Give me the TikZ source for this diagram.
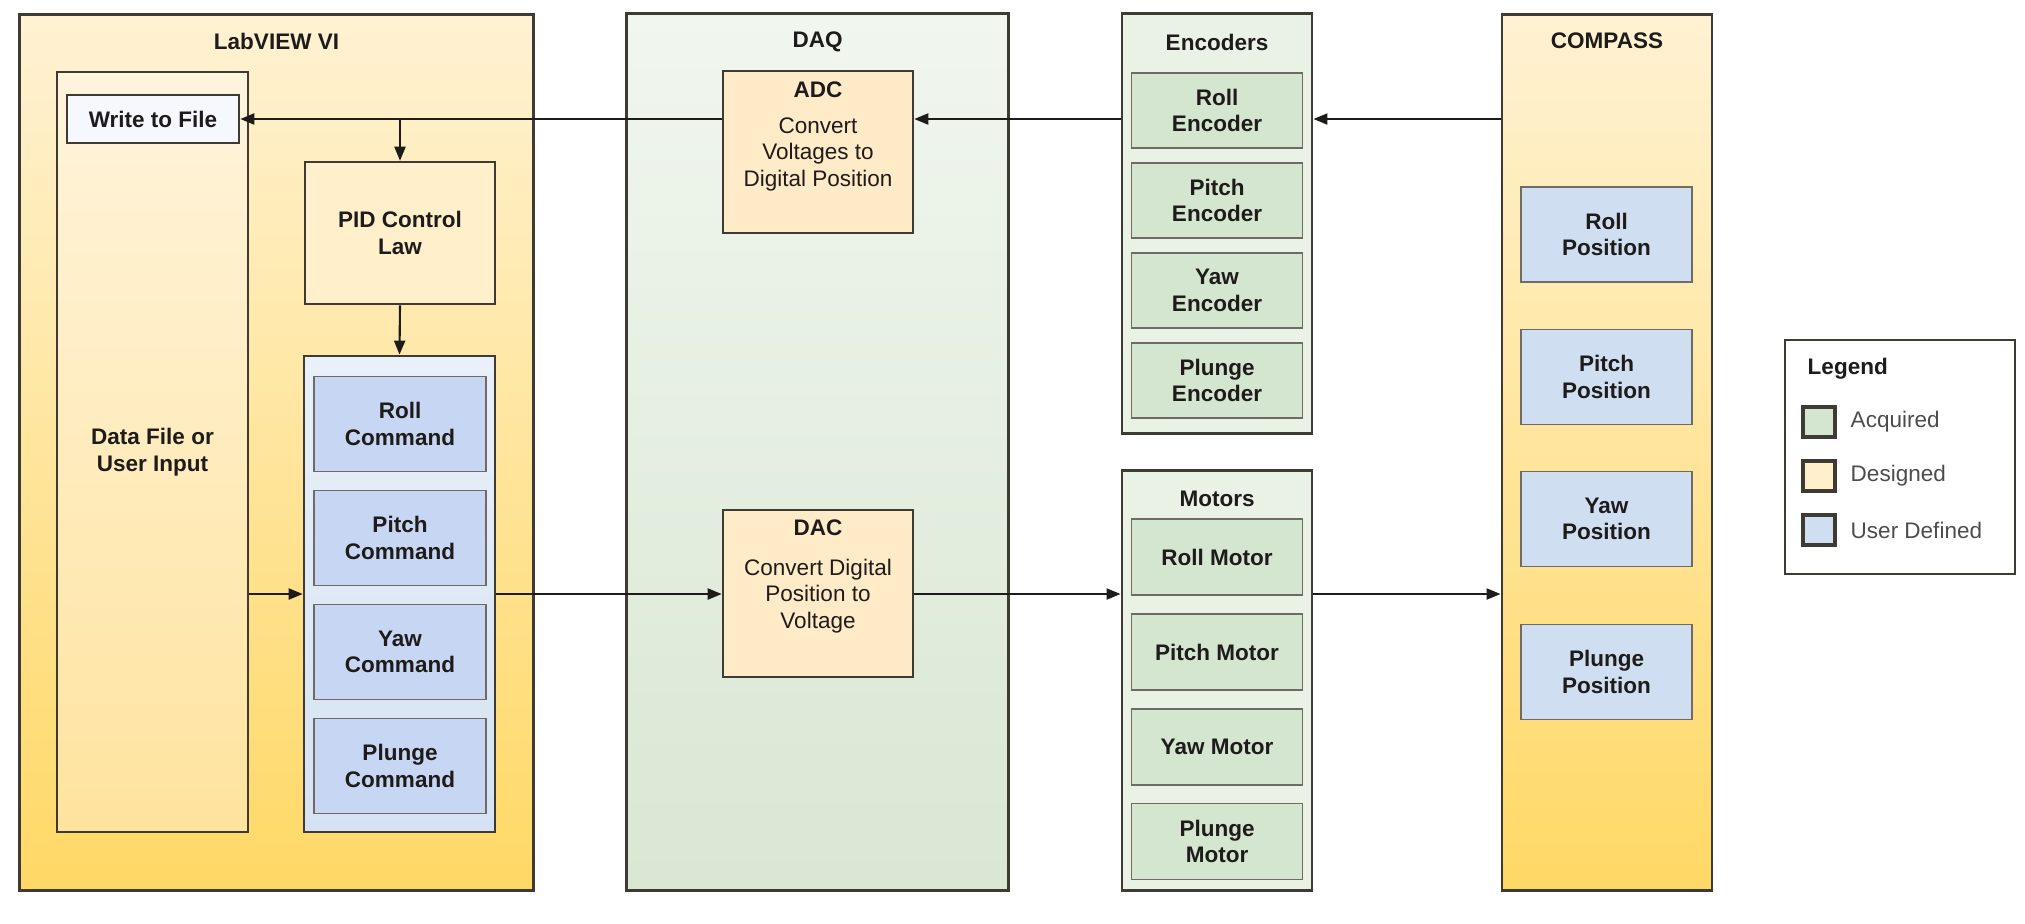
\documentclass[tikz,border=0pt]{standalone}
\usepackage{fontspec}
\setmainfont{Liberation Sans}
\usetikzlibrary{arrows.meta}

\definecolor{edge}{HTML}{3E3A34}
\definecolor{ink}{HTML}{1E1C1A}
\definecolor{creamtop}{HTML}{FFF2D3}
\definecolor{goldbot}{HTML}{FFD865}
\definecolor{filetop}{HTML}{FFF4DC}
\definecolor{filebot}{HTML}{FFE39E}
\definecolor{pidfill}{HTML}{FFEFCB}
\definecolor{convfill}{HTML}{FFEBC8}
\definecolor{cmdtop}{HTML}{E9F0F9}
\definecolor{cmdbot}{HTML}{D6E2F3}
\definecolor{cmdfill}{HTML}{C7D6F2}
\definecolor{daqtop}{HTML}{F1F6EF}
\definecolor{daqbot}{HTML}{D9E7D3}
\definecolor{hwfill}{HTML}{EAF2E6}
\definecolor{hwinner}{HTML}{D4E6CF}
\definecolor{posfill}{HTML}{CFDFF1}

\begin{document}
\begin{tikzpicture}[x=0.01cm, y=-0.01cm,
    every node/.style={font=\fontsize{6.4}{7.5}\selectfont\bfseries, text=ink, align=center, inner sep=0pt},
    group/.style={draw=edge, line width=0.8pt, rectangle},
    box/.style={draw=edge, line width=0.7pt, rectangle},
    thinbox/.style={draw=edge!75, line width=0.5pt, rectangle},
    heading/.style={anchor=north, yshift=-0.19cm},
    keytext/.style={anchor=west, font=\fontsize{6.4}{7.5}\selectfont, text=black!70},
    arrow/.style={-{Triangle[length=0.14cm,width=0.11cm]}, line width=0.6pt, draw=ink}]

        % Canvas
        \useasboundingbox[fill=white] (0,0) rectangle (2025,923);

        % LabVIEW VI
        \node[group, top color=creamtop, bottom color=goldbot, minimum width=5.13cm, minimum height=8.75cm,
              label={[heading]north:LabVIEW VI}] (labview) at (276.5,452.5) {};
        \node[box, top color=filetop, bottom color=filebot, minimum width=1.91cm, minimum height=7.6cm] (datafile) at (152.5,452) {Data File or\\User Input};
        \node[box, fill=white!97!blue, minimum width=1.72cm, minimum height=0.48cm] (writefile) at (153,119) {Write to File};
        \node[box, fill=pidfill, minimum width=1.9cm, minimum height=1.42cm] (pid) at (400,233) {PID Control\\Law};
        \node[box, top color=cmdtop, bottom color=cmdbot, minimum width=1.91cm, minimum height=4.76cm] (cmdbox) at (399.5,594) {};
        \node[thinbox, fill=cmdfill, minimum width=1.72cm, minimum height=0.95cm] (rollcmd) at (400,424) {Roll\\Command};
        \node[thinbox, fill=cmdfill, minimum width=1.72cm, minimum height=0.95cm] (pitchcmd) at (400,538) {Pitch\\Command};
        \node[thinbox, fill=cmdfill, minimum width=1.72cm, minimum height=0.95cm] (yawcmd) at (400,652) {Yaw\\Command};
        \node[thinbox, fill=cmdfill, minimum width=1.72cm, minimum height=0.95cm] (plungecmd) at (400,766) {Plunge\\Command};

        % DAQ
        \node[group, top color=daqtop, bottom color=daqbot, minimum width=3.81cm, minimum height=8.76cm,
              label={[heading]north:DAQ}] (daq) at (817.5,452) {};
        \node[box, fill=convfill, minimum width=1.9cm, minimum height=1.62cm,
              label={[anchor=north, yshift=-0.11cm]north:{ADC\\[0.1cm]\mdseries Convert\\\mdseries Voltages to\\\mdseries Digital Position}}] (adc) at (818,152) {};
        \node[box, fill=convfill, minimum width=1.9cm, minimum height=1.67cm,
              label={[anchor=north, yshift=-0.10cm]north:{DAC\\[0.14cm]\mdseries Convert Digital\\\mdseries Position to\\\mdseries Voltage}}] (dac) at (818,593.5) {};

        % Encoders
        \node[group, fill=hwfill, minimum width=1.9cm, minimum height=4.19cm,
              label={[heading, yshift=-0.02cm]north:Encoders}] (encoders) at (1217,223.5) {};
        \node[thinbox, fill=hwinner, minimum width=1.71cm, minimum height=0.75cm] (rollenc) at (1217,110.5) {Roll\\Encoder};
        \node[thinbox, fill=hwinner, minimum width=1.71cm, minimum height=0.75cm] (pitchenc) at (1217,200.5) {Pitch\\Encoder};
        \node[thinbox, fill=hwinner, minimum width=1.71cm, minimum height=0.75cm] (yawenc) at (1217,290.5) {Yaw\\Encoder};
        \node[thinbox, fill=hwinner, minimum width=1.71cm, minimum height=0.75cm] (plungeenc) at (1217,380.5) {Plunge\\Encoder};

        % Motors
        \node[group, fill=hwfill, minimum width=1.9cm, minimum height=4.19cm,
              label={[heading, yshift=-0.02cm]north:Motors}] (motors) at (1217,680.5) {};
        \node[thinbox, fill=hwinner, minimum width=1.71cm, minimum height=0.76cm] (rollmot) at (1217,557) {Roll Motor};
        \node[thinbox, fill=hwinner, minimum width=1.71cm, minimum height=0.76cm] (pitchmot) at (1217,652) {Pitch Motor};
        \node[thinbox, fill=hwinner, minimum width=1.71cm, minimum height=0.76cm] (yawmot) at (1217,747) {Yaw Motor};
        \node[thinbox, fill=hwinner, minimum width=1.71cm, minimum height=0.76cm] (plungemot) at (1217,841.5) {Plunge\\Motor};

        % COMPASS
        \node[group, top color=creamtop, bottom color=goldbot, minimum width=2.1cm, minimum height=8.75cm,
              label={[heading]north:COMPASS}] (compass) at (1607,452.5) {};
        \node[thinbox, fill=posfill, minimum width=1.71cm, minimum height=0.95cm] (rollpos) at (1606.5,234.5) {Roll\\Position};
        \node[thinbox, fill=posfill, minimum width=1.71cm, minimum height=0.95cm] (pitchpos) at (1606.5,377) {Pitch\\Position};
        \node[thinbox, fill=posfill, minimum width=1.71cm, minimum height=0.95cm] (yawpos) at (1606.5,519) {Yaw\\Position};
        \node[thinbox, fill=posfill, minimum width=1.71cm, minimum height=0.95cm] (plungepos) at (1606.5,672) {Plunge\\Position};

        % Legend
        \node[box, fill=white, minimum width=2.3cm, minimum height=2.34cm] (legend) at (1900,457) {};
        \node[anchor=west] (legendtitle) at (1807,369) {Legend};
        \node[box, line width=1pt, fill=hwinner, minimum width=0.32cm, minimum height=0.3cm] (keyacq) at (1819,422) {};
        \node[keytext] (acqtext) at (1850,422) {Acquired};
        \node[box, line width=1pt, fill=pidfill, minimum width=0.32cm, minimum height=0.3cm] (keydes) at (1819,476) {};
        \node[keytext] (destext) at (1850,476) {Designed};
        \node[box, line width=1pt, fill=posfill, minimum width=0.32cm, minimum height=0.3cm] (keyusr) at (1819,530) {};
        \node[keytext] (usrtext) at (1850,530) {User Defined};

        % Feedback path
        \draw[arrow] (compass.west |- writefile) -- (encoders.east |- writefile);
        \draw[arrow] (encoders.west |- writefile) -- (adc.east |- writefile);
        \draw[arrow] (adc.west |- writefile) -- (writefile.east);
        \draw[arrow] (pid.north |- writefile) -- (pid.north);
        \draw[arrow] (pid.south) -- (cmdbox.north);

        % Command path
        \draw[arrow] (datafile.east |- cmdbox) -- (cmdbox.west);
        \draw[arrow] (cmdbox.east) -- (dac.west |- cmdbox);
        \draw[arrow] (dac.east |- cmdbox) -- (motors.west |- cmdbox);
        \draw[arrow] (motors.east |- cmdbox) -- (compass.west |- cmdbox);

    \end{tikzpicture}
\end{document}
